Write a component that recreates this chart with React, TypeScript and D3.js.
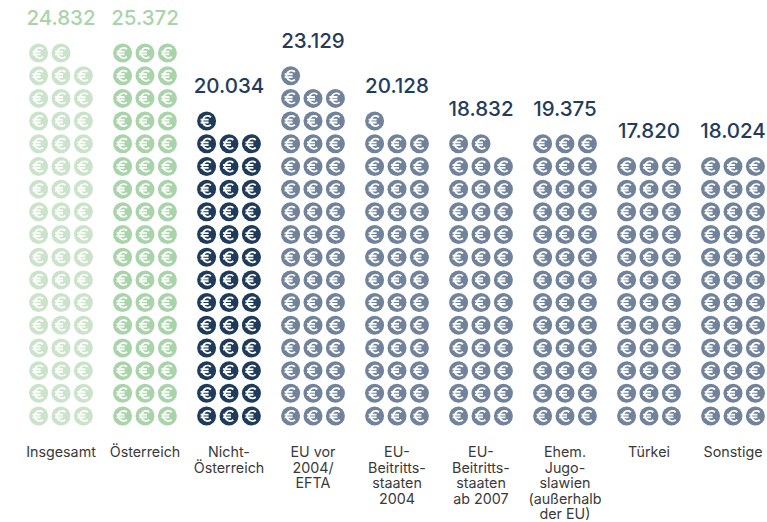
import * as React from "react";
import * as d3 from "d3";

const categories = [
  "Insgesamt",
  "Österreich",
  "Nicht-Österreich",
  "EU vor 2004/EFTA",
  "EU-Beitritts-staaten 2004",
  "EU-Beitritts-staaten ab 2007",
  "Ehem. Jugo-slawien",
  "Türkei",
  "Sonstige",
];
const values = [24832, 25372, 20034, 23129, 20128, 18832, 19375, 17820, 18024];
const labelLines = [
  ["Insgesamt"],
  ["Österreich"],
  ["Nicht-", "Österreich"],
  ["EU vor", "2004/", "EFTA"],
  ["EU-", "Beitritts-", "staaten", "2004"],
  ["EU-", "Beitritts-", "staaten", "ab 2007"],
  ["Ehem.", "Jugo-", "slawien", "(außerhalb", "der EU)"],
  ["Türkei"],
  ["Sonstige"],
];
const coinColors = [
  "#cbe3cb",
  "#a9d4aa",
  "#1f3b5a",
  "#71829b",
  "#71829b",
  "#71829b",
  "#71829b",
  "#71829b",
  "#71829b",
];
const valueColors = [
  "#a9d4aa",
  "#a9d4aa",
  "#233c5b",
  "#233c5b",
  "#233c5b",
  "#233c5b",
  "#233c5b",
  "#233c5b",
  "#233c5b",
];

const euroPerCoin = 500;
const coinsPerRow = 3;
const fontFamily = "Inter, 'Open Sans', sans-serif";
const format = d3.format(",");

const width = 767;
const height = 522;

const x = d3
  .scalePoint<string>()
  .domain(categories)
  .range([61, 733]);
const offset = d3.scaleLinear().domain([0, 2]).range([-22.4, 22.4]);
const y = d3.scaleLinear().domain([0, 16]).range([416, 53]);

const euroPath = () => {
  const p = d3.path();
  p.arc(1, 0, 5, -Math.PI * 0.27, Math.PI * 0.27, true);
  p.moveTo(-6, -1.4);
  p.lineTo(2, -1.4);
  p.moveTo(-6, 1.4);
  p.lineTo(2, 1.4);
  return p.toString();
};

const Coin = ({ cx, cy, fill }: { cx: number; cy: number; fill: string }) => (
  <g transform={`translate(${cx},${cy})`}>
    <circle r={9.5} fill={fill} />
    <path d={euroPath()} fill="none" stroke="#fff" strokeWidth={1.9} />
  </g>
);

const Column = ({ index }: { index: number }) => {
  const cat = categories[index];
  const value = values[index];
  const count = Math.round(value / euroPerCoin);
  const rows = Math.ceil(count / coinsPerRow);
  const cx = x(cat) as number;

  return (
    <g>
      {d3.range(count).map((i) => (
        <Coin
          key={i}
          cx={cx + offset(i % coinsPerRow)}
          cy={y(Math.floor(i / coinsPerRow))}
          fill={coinColors[index]}
        />
      ))}
      <text
        x={cx}
        y={y(rows - 1) - 28}
        textAnchor="middle"
        fontSize={20.5}
        fontWeight={500}
        fill={valueColors[index]}
      >
        {format(value).replace(",", ".")}
      </text>
      <text textAnchor="middle" fontSize={14.3} fill="#3a3a3a">
        {labelLines[index].map((line, i) => (
          <tspan key={i} x={cx} y={457 + i * 15.5}>
            {line}
          </tspan>
        ))}
      </text>
    </g>
  );
};

export default function App() {
  return (
    <svg
      width={width}
      height={height}
      style={{ position: "absolute", left: 0, top: 0, background: "#fff" }}
      fontFamily={fontFamily}
    >
      {categories.map((_, i) => (
        <Column key={i} index={i} />
      ))}
    </svg>
  );
}
